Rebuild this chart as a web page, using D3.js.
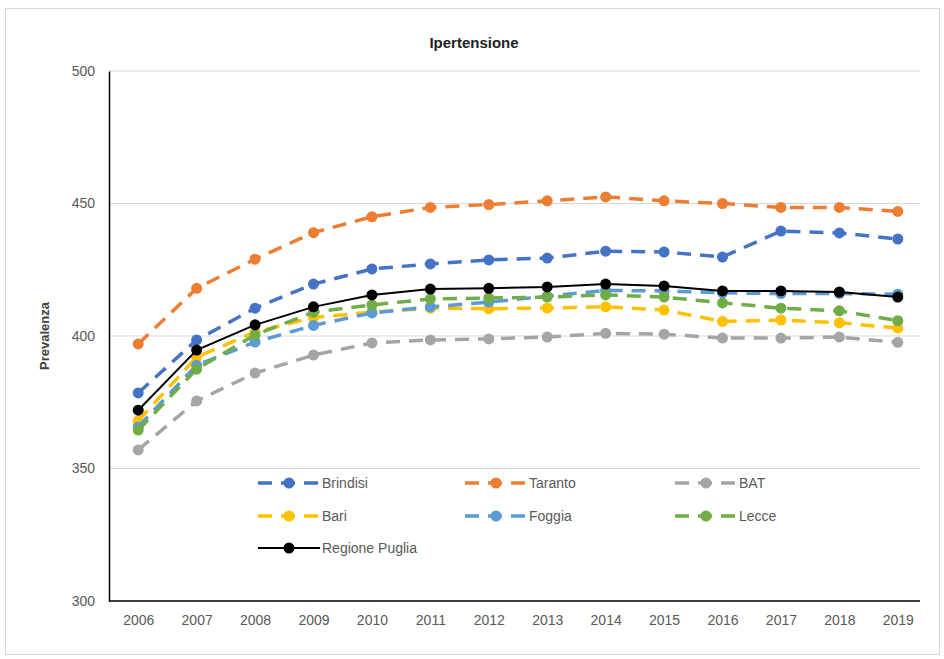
<!DOCTYPE html>
<html><head><meta charset="utf-8">
<script src="https://cdn.jsdelivr.net/npm/d3@7"></script>
<style>body{margin:0;background:#fff;} text{font-family:"Liberation Sans",Arial,sans-serif;}</style>
</head><body><svg id="c" width="944" height="659"></svg>
<script>
const years = ["2006","2007","2008","2009","2010","2011","2012","2013","2014","2015","2016","2017","2018","2019"];
const brindisi = [378.5,398.5,410.5,419.6,425.3,427.2,428.7,429.4,432,431.7,429.8,439.6,438.9,436.6];
const taranto  = [397,418,429,439,445,448.5,449.6,451,452.5,451,450,448.5,448.5,447];
const bat      = [357,375.5,386,392.8,397.4,398.5,398.9,399.6,401,400.7,399.2,399.2,399.6,397.6];
const bari     = [368,392,401.5,407,409,410.5,410.3,410.6,411,409.8,405.5,406,405,403];
const foggia   = [365.7,389,397.7,404,408.7,411,412.8,415,417.2,417,416.3,416,416,415.8];
const lecce    = [364.5,387.5,400.4,409,411.7,414,414.3,414.7,415.5,414.7,412.5,410.5,409.5,405.8];
const puglia   = [372,394.7,404.2,411,415.5,417.7,418,418.5,419.6,418.9,417,417,416.6,414.7];
const yTicks = [300,350,400,450,500];

const seriesNames = ["Brindisi","Taranto","BAT","Bari","Foggia","Lecce","Regione Puglia"];
const seriesVals = [brindisi,taranto,bat,bari,foggia,lecce,puglia];
const seriesColors = ["#4472C4","#ED7D31","#A5A5A5","#FFC000","#5B9BD5","#70AD47","#000000"];
const seriesDashed = [true,true,true,true,true,true,false];

const svg = d3.select("#c");
svg.append("rect").attr("x",5.5).attr("y",8.5).attr("width",934).attr("height",646)
  .attr("fill","#fff").attr("stroke","#d9d9d9");

const L=109, R=927, T=71, B=601;
const x = d3.scalePoint().domain(years).range([L,R]).padding(0.5);
const y = d3.scaleLinear().domain([300,500]).range([B,T]);

// gridlines
svg.append("g").selectAll("line").data(yTicks.filter(d=>d>300)).join("line")
  .attr("x1",L).attr("x2",920).attr("y1",d=>y(d)).attr("y2",d=>y(d))
  .attr("stroke","#d9d9d9").attr("stroke-width",1);

// y axis
const ya = svg.append("g").attr("transform",`translate(${L},0)`)
  .call(d3.axisLeft(y).tickValues(yTicks).tickSize(0).tickPadding(14));
ya.select(".domain").attr("stroke","#000").attr("stroke-width",1.5);
ya.selectAll("text").attr("font-size",14).attr("fill","#595959");

// x axis
const xa = svg.append("g").attr("transform",`translate(0,${B})`)
  .call(d3.axisBottom(x).tickSize(0).tickPadding(14));
xa.select(".domain").attr("stroke","#000").attr("stroke-width",1.5).attr("d",`M${L},0H920`);
xa.selectAll("text").attr("font-size",14).attr("fill","#595959");

// title & axis label
svg.append("text").attr("x",474).attr("y",48).attr("text-anchor","middle")
  .attr("font-size",15).attr("font-weight","bold").attr("fill","#222").text("Ipertensione");
svg.append("text").attr("transform","translate(49,336) rotate(-90)").attr("text-anchor","middle")
  .attr("font-size",13).attr("font-weight","bold").attr("fill","#404040").text("Prevalenza");

const line = d3.line().x((d,i)=>x(years[i])).y(d=>y(d));
seriesVals.forEach((vals,k)=>{
  const g = svg.append("g");
  g.append("path").attr("d",line(vals)).attr("fill","none")
    .attr("stroke",seriesColors[k]).attr("stroke-width",seriesDashed[k]?3.5:2)
    .attr("stroke-dasharray",seriesDashed[k]?"14,9":null);
  g.selectAll("circle").data(vals).join("circle")
    .attr("cx",(d,i)=>x(years[i])).attr("cy",d=>y(d)).attr("r",5.5)
    .attr("fill",seriesColors[k]);
});

// legend
svg.append("rect").attr("x",252).attr("y",470).attr("width",542).attr("height",94).attr("fill","#fff");
const lx=[258,465,675], ly=[483,516,548];
seriesNames.forEach((n,k)=>{
  const cx = lx[k%3], cy = ly[Math.floor(k/3)];
  const g = svg.append("g");
  g.append("line").attr("x1",cx).attr("x2",cx+62).attr("y1",cy).attr("y2",cy)
    .attr("stroke",seriesColors[k]).attr("stroke-width",seriesDashed[k]?3.5:2)
    .attr("stroke-dasharray",seriesDashed[k]?"14,9":null);
  g.append("circle").attr("cx",cx+31).attr("cy",cy).attr("r",5.5).attr("fill",seriesColors[k]);
  g.append("text").attr("x",cx+64).attr("y",cy+5).attr("font-size",14).attr("fill","#595959").text(n);
});
</script></body></html>
